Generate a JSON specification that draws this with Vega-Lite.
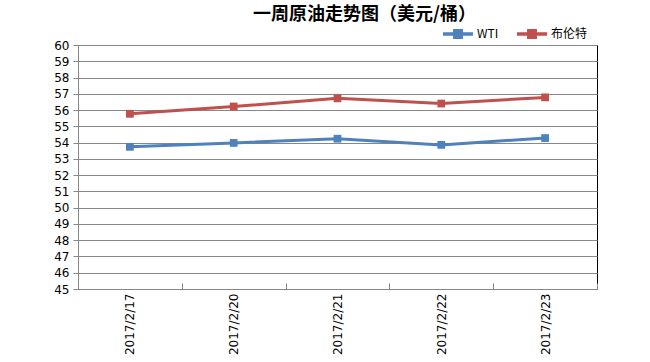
{
  "$schema": "https://vega.github.io/schema/vega-lite/v6.json",
  "autosize": "none",
  "width": 519,
  "height": 244,
  "padding": {"left": 78, "top": 45, "right": 53, "bottom": 73},
  "background": "white",
  "title": {
    "text": "一周原油走势图（美元/桶）",
    "font": "Noto Sans CJK SC",
    "fontSize": 18,
    "fontWeight": "bold",
    "color": "#000000",
    "anchor": "middle",
    "dx": 27,
    "offset": -5
  },
  "config": {
    "view": {"stroke": "#000000", "strokeWidth": 1},
    "font": "Liberation Sans"
  },
  "data": {
    "values": [
      {"date": "2017/2/17", "series": "WTI", "price": 53.74},
      {"date": "2017/2/20", "series": "WTI", "price": 53.98},
      {"date": "2017/2/21", "series": "WTI", "price": 54.24},
      {"date": "2017/2/22", "series": "WTI", "price": 53.86},
      {"date": "2017/2/23", "series": "WTI", "price": 54.28},
      {"date": "2017/2/17", "series": "布伦特", "price": 55.77},
      {"date": "2017/2/20", "series": "布伦特", "price": 56.22},
      {"date": "2017/2/21", "series": "布伦特", "price": 56.72},
      {"date": "2017/2/22", "series": "布伦特", "price": 56.40},
      {"date": "2017/2/23", "series": "布伦特", "price": 56.78}
    ]
  },
  "encoding": {
    "x": {
      "field": "date",
      "type": "ordinal",
      "sort": null,
      "scale": {"paddingInner": 0, "paddingOuter": 0},
      "axis": {
        "title": null,
        "labelAngle": -90,
        "labelAlign": "right",
        "labelBaseline": "middle",
        "labelFontSize": 12,
        "labelColor": "#000000",
        "labelFont": "DejaVu Sans",
        "labelPadding": 10,
        "tickBand": "extent",
        "tickSize": -6,
        "tickColor": "#878787",
        "domainColor": "#878787",
        "grid": false
      }
    },
    "y": {
      "field": "price",
      "type": "quantitative",
      "scale": {"domain": [45, 60], "nice": false, "zero": false},
      "axis": {
        "title": null,
        "values": [45,46,47,48,49,50,51,52,53,54,55,56,57,58,59,60],
        "labelFontSize": 12,
        "labelColor": "#000000",
        "labelFont": "DejaVu Sans",
        "tickColor": "#878787",
        "tickSize": 5,
        "labelPadding": 4,
        "domainColor": "#878787",
        "gridColor": "#878787",
        "gridWidth": 1
      }
    },
    "color": {
      "field": "series",
      "type": "nominal",
      "sort": ["WTI", "布伦特"],
      "scale": {"domain": ["WTI", "布伦特"], "range": ["#4F81BD", "#C0504D"]},
      "legend": {
        "title": null,
        "orient": "none",
        "legendX": 365,
        "legendY": -26,
        "direction": "horizontal",
        "symbolType": "M-1,-0.12H-0.33V-0.33H0.33V-0.12H1V0.12H0.33V0.33H-0.33V0.12H-1Z",
        "symbolSize": 900,
        "symbolStrokeWidth": 0,
        "symbolOpacity": 1,
        "labelFontSize": 12,
        "labelFont": "Noto Sans CJK SC",
        "labelColor": "#000000",
        "columnPadding": 18,
        "labelOffset": 4
      }
    }
  },
  "layer": [
    {"mark": {"type": "line", "strokeWidth": 3}},
    {"mark": {"type": "point", "shape": "square", "filled": true, "size": 60, "opacity": 1}}
  ]
}
